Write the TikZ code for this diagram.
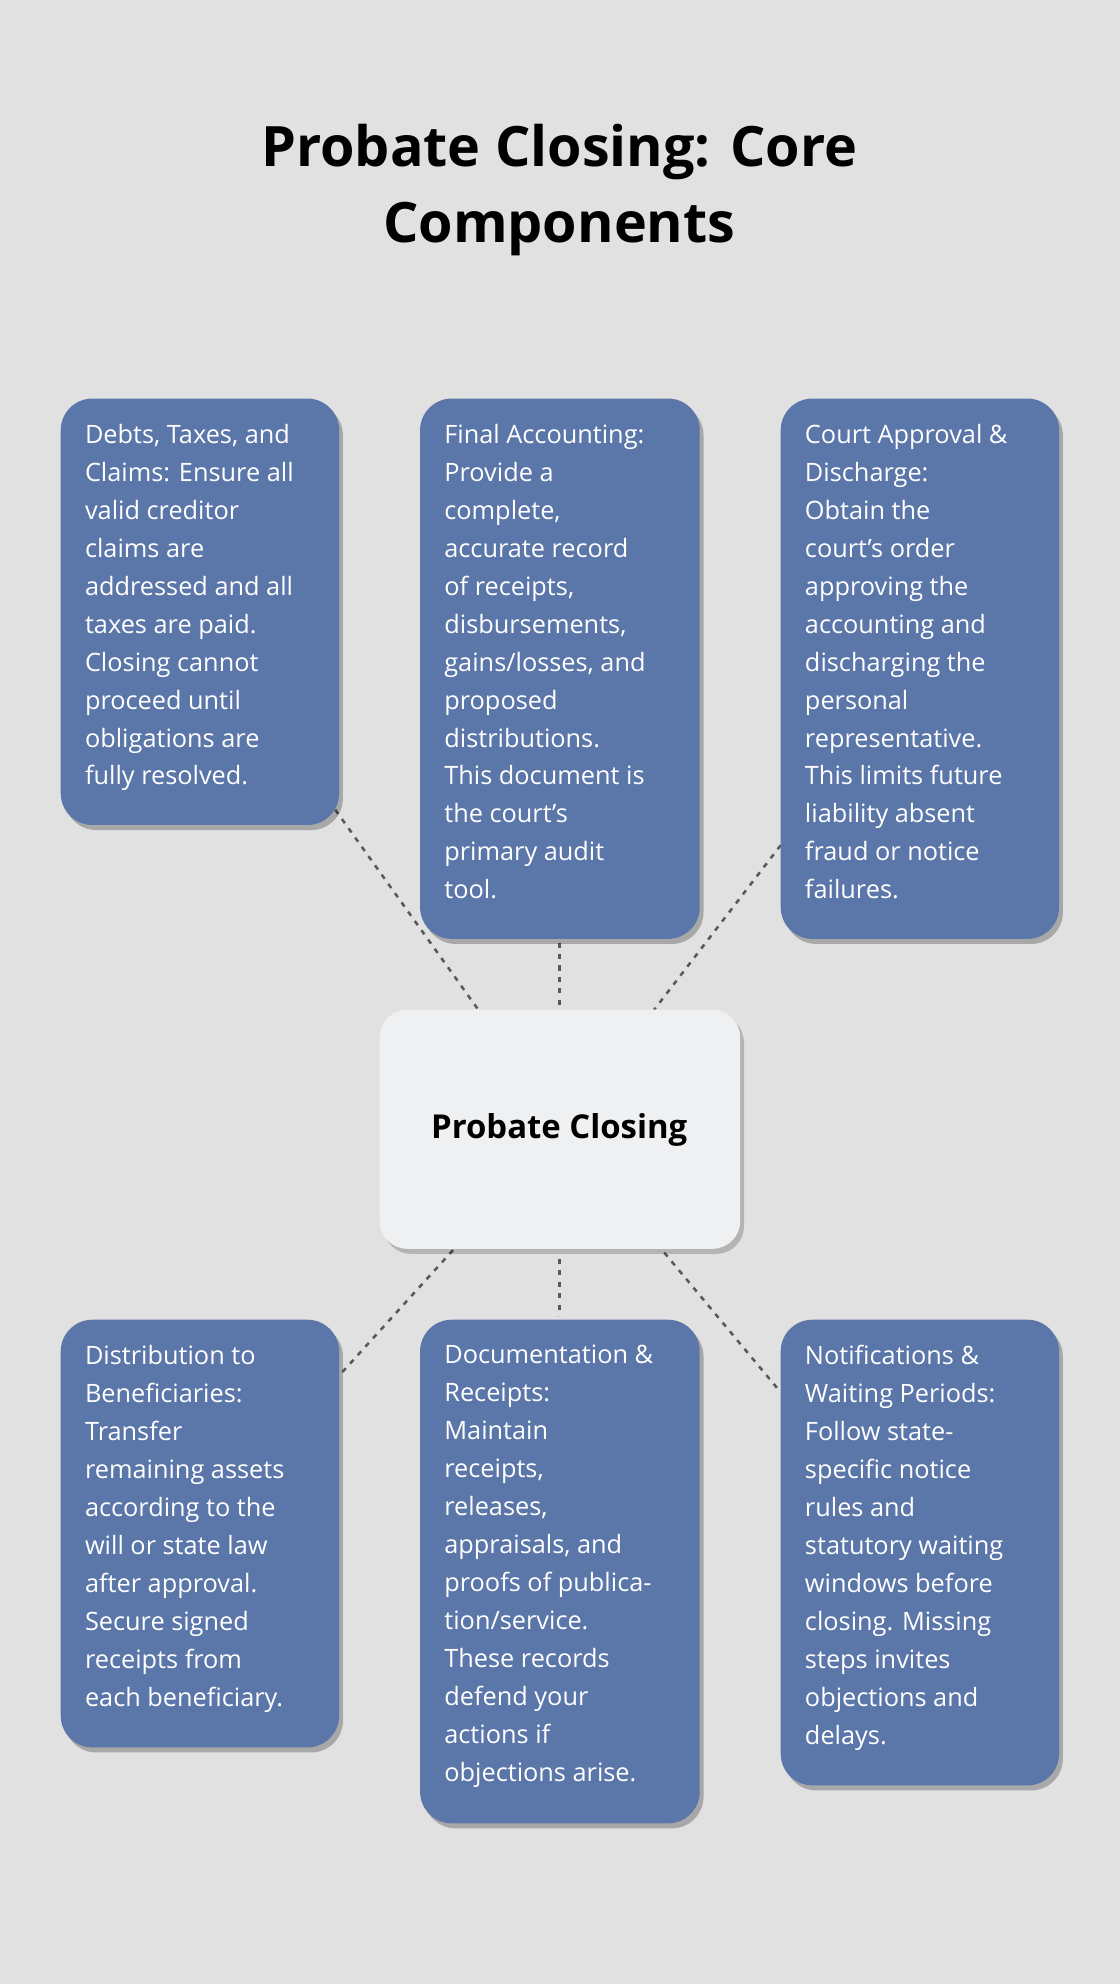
\documentclass[tikz,border=0pt]{standalone}
\usepackage{fontspec}
\setmainfont{Open Sans}
\usetikzlibrary{shadows}
\definecolor{bg}{HTML}{E0E1E0}
\definecolor{box}{HTML}{5B76A8}
\definecolor{cen}{HTML}{EEF0F2}
\begin{document}
\begin{tikzpicture}[x=1pt,y=-1pt,
 card/.style={fill=box,rounded corners=25pt,drop shadow={shadow xshift=3pt,shadow yshift=-4pt,opacity=0.25,fill=black}},
 txt/.style={anchor=north west,text=white,align=left,inner sep=0pt,font=\fontsize{20}{30}\selectfont},
 conn/.style={draw=black!65,line width=2pt,dash pattern=on 4pt off 5pt}]
\fill[bg] (0,0) rectangle (885,1568);
\useasboundingbox (0,0) rectangle (885,1568);
\node[font=\fontsize{44}{60}\selectfont\bfseries,align=center] (title) at (442,150) {Probate Closing: Core\\Components};
\coordinate (a1) at (265,640); \coordinate (a2) at (378,798);
\coordinate (b1) at (442,745); \coordinate (b2) at (442,795);
\coordinate (c1) at (617,668); \coordinate (c2) at (517,798);
\coordinate (d1) at (358,988); \coordinate (d2) at (270,1085);
\coordinate (e1) at (442,995); \coordinate (e2) at (442,1040);
\coordinate (f1) at (525,990); \coordinate (f2) at (615,1098);
\foreach \p/\q in {a1/a2,b1/b2,c1/c2,d1/d2,e1/e2,f1/f2}{\draw[conn] (\p)--(\q);}
\fill[card] (48,315) rectangle (268,652);
\fill[card] (332,315) rectangle (553,742);
\fill[card] (617,315) rectangle (837,742);
\fill[card] (48,1043) rectangle (268,1381);
\fill[card] (332,1043) rectangle (553,1441);
\fill[card] (617,1043) rectangle (837,1411);
\fill[cen,rounded corners=22pt,drop shadow={shadow xshift=3pt,shadow yshift=-4pt,opacity=0.2,fill=black}] (300,798) rectangle (585,987);
\node[font=\fontsize{26}{30}\selectfont\bfseries] (center) at (442,893) {Probate Closing};
\node[txt] (t1) at (67,335) {Debts, Taxes, and\\Claims: Ensure all\\valid creditor\\claims are\\addressed and all\\taxes are paid.\\Closing cannot\\proceed until\\obligations are\\fully resolved.};
\node[txt] (t2) at (351,335) {Final Accounting:\\Provide a\\complete,\\accurate record\\of receipts,\\disbursements,\\gains/losses, and\\proposed\\distributions.\\This document is\\the court’s\\primary audit\\tool.};
\node[txt] (t3) at (636,335) {Court Approval \&\\Discharge:\\Obtain the\\court’s order\\approving the\\accounting and\\discharging the\\personal\\representative.\\This limits future\\liability absent\\fraud or notice\\failures.};
\node[txt] (t4) at (67,1063) {Distribution to\\Beneficiaries:\\Transfer\\remaining assets\\according to the\\will or state law\\after approval.\\Secure signed\\receipts from\\each beneficiary.};
\node[txt] (t5) at (351,1063) {Documentation \&\\Receipts:\\Maintain\\receipts,\\releases,\\appraisals, and\\proofs of publica-\\tion/service.\\These records\\defend your\\actions if\\objections arise.};
\node[txt] (t6) at (636,1063) {Notifications \&\\Waiting Periods:\\Follow state-\\specific notice\\rules and\\statutory waiting\\windows before\\closing. Missing\\steps invites\\objections and\\delays.};
\end{tikzpicture}
\end{document}
